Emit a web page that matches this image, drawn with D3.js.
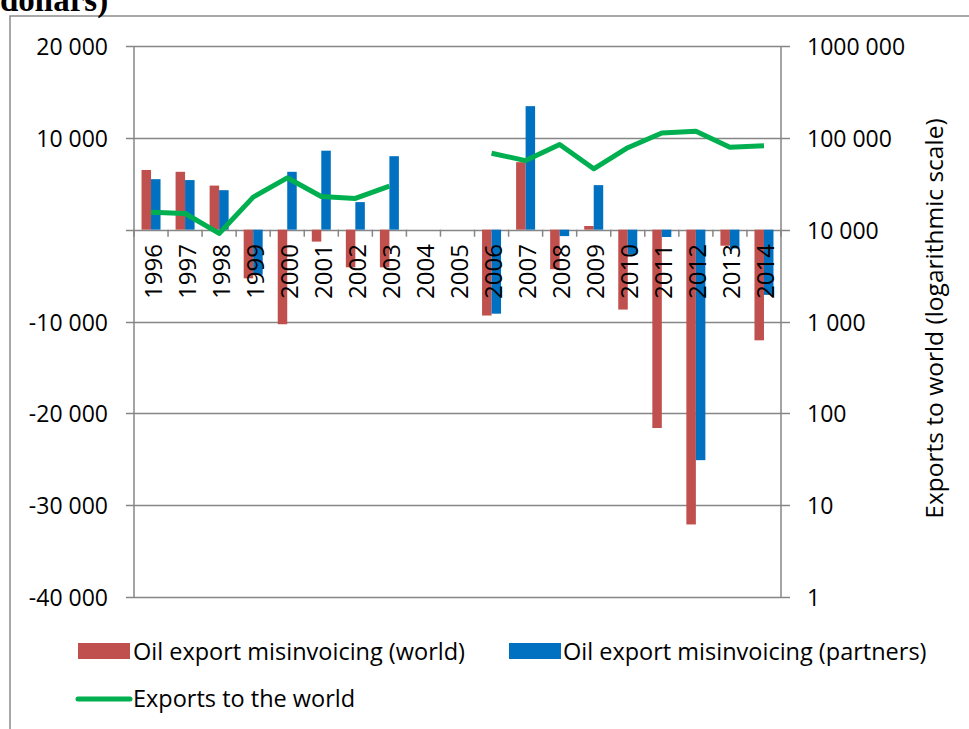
<!DOCTYPE html>
<html>
<head>
<meta charset="utf-8">
<script src="https://cdn.jsdelivr.net/npm/d3@7"></script>
<style>
  html, body { margin: 0; padding: 0; background: #fff; }
  svg { display: block; }
  text { font-family: "Open Sans", "Noto Sans", sans-serif; fill: #000; }
</style>
</head>
<body>
<svg id="chart" width="969" height="729"></svg>
<script>
// ---- data ----
const years = ["1996","1997","1998","1999","2000","2001","2002","2003","2004","2005","2006","2007","2008","2009","2010","2011","2012","2013","2014"];
const misWorld =    [6500, 6300, 4800, -5300, -10300, -1300, -4100, -4100, null, null, -9350, 7350, -4300, 400, -8700, -21600, -32100, -1750, -12050];
const misPartners = [5500, 5400, 4300, -4900, 6300, 8600, 3000, 8000, null, null, -9150, 13450, -700, 4850, -2700, -800, -25100, -2050, -7100];
const exportsWorld = [15500, 15000, 9100, 22600, 36700, 23000, 21900, 29800, null, null, 68000, 56500, 84500, 46000, 78000, 113000, 118000, 79000, 82000];
const leftTicks = [20000, 10000, 0, -10000, -20000, -30000, -40000];
const leftTickLabels = ["20 000", "10 000", "", "-10 000", "-20 000", "-30 000", "-40 000"];
const rightTicks = [1, 10, 100, 1000, 10000, 100000, 1000000];
const rightTickLabels = ["1", "10", "100", "1 000", "10 000", "100 000", "1000 000"];
const seriesNames = ["Oil export misinvoicing (world)", "Oil export misinvoicing (partners)", "Exports to the world"];
const titleText = "dollars)";
const rightAxisTitle = "Exports to world (logarithmic scale)";

// ---- layout ----
const svg = d3.select("#chart");
const L = 134, R = 781, T = 46, B = 597;
const RED = "#C0504D", BLUE = "#0070C0", GREEN = "#00B050", GRID = "#868686";

const x = d3.scaleBand().domain(years).range([L, R]).padding(0);
const yL = d3.scaleLinear().domain([-40000, 20000]).range([B, T]);
const yR = d3.scaleLog().domain([1, 1000000]).range([B, T]);
const barW = 9.5;

// outer frame
svg.append("rect").attr("x", 10).attr("y", 16).attr("width", 1000).attr("height", 800)
  .attr("fill", "none").attr("stroke", "#8c8c8c").attr("stroke-width", 1.5);

// partial title
svg.append("text").attr("x", 0).attr("y", 11).text(titleText)
  .style("font-family", "'Liberation Serif', 'Times New Roman', serif")
  .style("font-weight", "bold").style("font-size", "33px");

// gridlines (extend across ticks on both sides)
svg.append("g").selectAll("line").data(leftTicks).join("line")
  .attr("x1", L - 8).attr("x2", R + 9)
  .attr("y1", d => Math.round(yL(d)) + 0.5).attr("y2", d => Math.round(yL(d)) + 0.5)
  .attr("stroke", GRID).attr("stroke-width", 1.5);

// axis lines
svg.append("line").attr("x1", L).attr("x2", L).attr("y1", T).attr("y2", B)
  .attr("stroke", GRID).attr("stroke-width", 1.5);
svg.append("line").attr("x1", R).attr("x2", R).attr("y1", T).attr("y2", B)
  .attr("stroke", GRID).attr("stroke-width", 1.5);

// category ticks at zero line
const bounds = years.map(d => x(d)).concat([R]);
svg.append("g").selectAll("line").data(bounds).join("line")
  .attr("x1", d => d).attr("x2", d => d)
  .attr("y1", yL(0)).attr("y2", yL(0) + 7)
  .attr("stroke", GRID).attr("stroke-width", 1.5);

// left tick labels
svg.append("g").selectAll("text").data(leftTicks).join("text")
  .attr("x", 108).attr("y", d => yL(d)).attr("text-anchor", "end")
  .attr("dominant-baseline", "central").style("font-size", "23px")
  .text((d, i) => leftTickLabels[i]);

// right tick labels
svg.append("g").selectAll("text").data(rightTicks).join("text")
  .attr("x", 807).attr("y", d => yR(d)).attr("text-anchor", "start")
  .attr("dominant-baseline", "central").style("font-size", "23px")
  .text((d, i) => rightTickLabels[i]);

// right axis title
svg.append("text").attr("transform", `translate(933,${(T + B) / 2 - 3}) rotate(-90)`)
  .attr("text-anchor", "middle").attr("dominant-baseline", "central")
  .style("font-size", "24.5px").text(rightAxisTitle);

// bars
const cx = d => x(d) + x.bandwidth() / 2;
svg.append("g").selectAll("rect").data(years.map((y, i) => ({y, v: misWorld[i]})).filter(d => d.v !== null)).join("rect")
  .attr("x", d => cx(d.y) - barW).attr("width", barW)
  .attr("y", d => yL(Math.max(0, d.v))).attr("height", d => Math.abs(yL(d.v) - yL(0)))
  .attr("fill", RED);
svg.append("g").selectAll("rect").data(years.map((y, i) => ({y, v: misPartners[i]})).filter(d => d.v !== null)).join("rect")
  .attr("x", d => cx(d.y)).attr("width", barW)
  .attr("y", d => yL(Math.max(0, d.v))).attr("height", d => Math.abs(yL(d.v) - yL(0)))
  .attr("fill", BLUE);

// category labels (rotated, drawn over bars)
svg.append("g").selectAll("text").data(years).join("text")
  .attr("transform", d => `translate(${cx(d) + 1},299) rotate(-90)`)
  .attr("text-anchor", "start").attr("dominant-baseline", "central")
  .style("font-size", "24px").text(d => d);

// exports line
const line = d3.line().defined(d => d.v !== null)
  .x(d => cx(d.y)).y(d => yR(d.v));
svg.append("path").datum(years.map((y, i) => ({y, v: exportsWorld[i]})))
  .attr("d", line).attr("fill", "none").attr("stroke", GREEN)
  .attr("stroke-width", 5).attr("stroke-linejoin", "round").attr("stroke-linecap", "butt");

// legend
svg.append("rect").attr("x", 78).attr("y", 643).attr("width", 52).attr("height", 16).attr("fill", RED);
svg.append("text").attr("x", 133).attr("y", 651).attr("dominant-baseline", "central")
  .style("font-size", "23.5px").text(seriesNames[0]);
svg.append("rect").attr("x", 509).attr("y", 643).attr("width", 52).attr("height", 16).attr("fill", BLUE);
svg.append("text").attr("x", 563).attr("y", 651).attr("dominant-baseline", "central")
  .style("font-size", "23.5px").text(seriesNames[1]);
svg.append("line").attr("x1", 78).attr("x2", 130).attr("y1", 699).attr("y2", 699)
  .attr("stroke", GREEN).attr("stroke-width", 5).attr("stroke-linecap", "round");
svg.append("text").attr("x", 133).attr("y", 698).attr("dominant-baseline", "central")
  .style("font-size", "23.5px").text(seriesNames[2]);
</script>
</body>
</html>
